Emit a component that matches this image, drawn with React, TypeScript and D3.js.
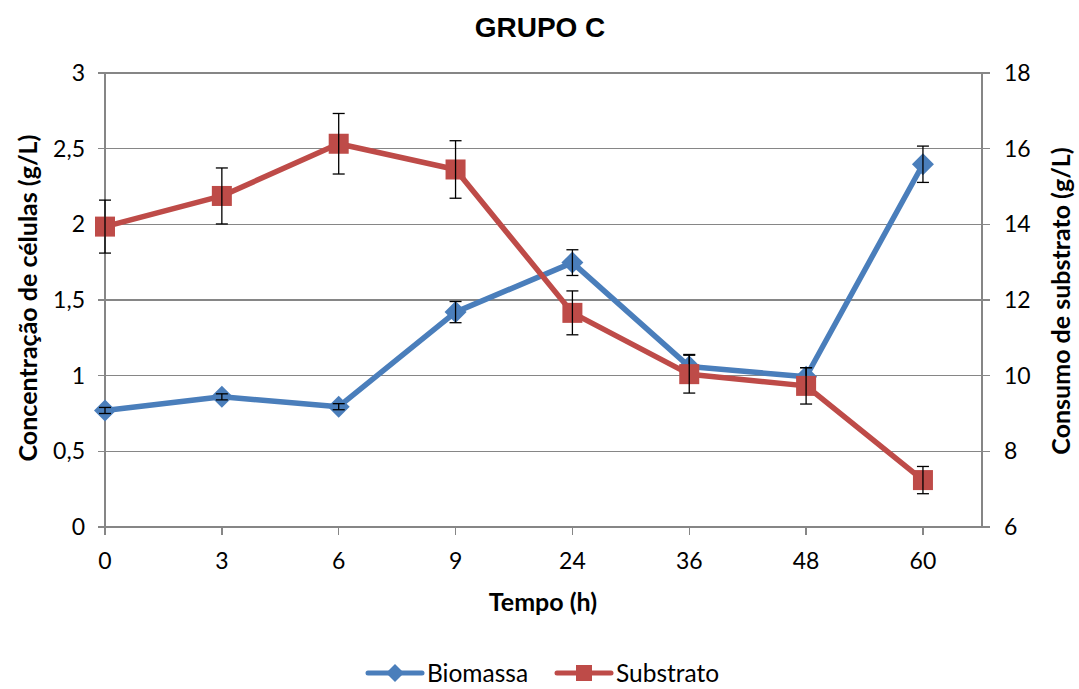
import React, { useEffect, useRef } from 'react';
import * as d3 from 'd3';

// tempo (h) categories
const categories = ['0', '3', '6', '9', '24', '36', '48', '60'];
// biomassa (g/L), left axis
const biomassa = [0.77, 0.86, 0.795, 1.42, 1.747, 1.06, 0.993, 2.397];
const biomassaErr = [0.02, 0.02, 0.02, 0.07, 0.085, 0.08, 0.06, 0.12];
// substrato (g/L), right axis
const substrato = [13.94, 14.75, 16.13, 15.45, 11.66, 10.04, 9.73, 7.24];
const substratoErr = [0.7, 0.74, 0.8, 0.76, 0.58, 0.5, 0.48, 0.36];
const leftTicks = [0, 0.5, 1, 1.5, 2, 2.5, 3];
const rightTicks = [6, 8, 10, 12, 14, 16, 18];

const W = 1079;
const H = 689;
const BLUE = '#4A7EBB';
const RED = '#BE4B48';
const GRID = '#868686';
const FONT = 'Lato, "Open Sans", sans-serif';

const fmt = (v: number) => String(v).replace('.', ',');

const App = () => {
  const ref = useRef<SVGSVGElement>(null);

  useEffect(() => {
    const svg = d3.select(ref.current);
    svg.selectAll('*').remove();

    const left = 105, right = 982, top = 73, bottom = 527;
    const step = 116.85;
    const x = d3.scaleLinear().domain([0, categories.length - 1]).range([left, left + step * (categories.length - 1)]);
    const yL = d3.scaleLinear().domain([0, 3]).range([bottom, top]);
    const yR = d3.scaleLinear().domain([6, 18]).range([bottom, top]);

    // title
    svg.append('text')
      .attr('x', 540).attr('y', 37)
      .attr('text-anchor', 'middle')
      .attr('font-family', '"Liberation Sans", Arial, sans-serif')
      .attr('font-weight', 'bold')
      .attr('font-size', 28)
      .text('GRUPO C');

    // gridlines
    leftTicks.forEach(t => {
      svg.append('line')
        .attr('x1', left - 7).attr('x2', right + 8)
        .attr('y1', yL(t)).attr('y2', yL(t))
        .attr('stroke', GRID).attr('stroke-width', 1.3)
        .attr('shape-rendering', 'crispEdges');
      svg.append('text')
        .attr('x', 85).attr('y', yL(t) + 8)
        .attr('text-anchor', 'end')
        .attr('font-family', FONT).attr('font-size', 23)
        .text(fmt(t));
    });
    rightTicks.forEach(t => {
      svg.append('text')
        .attr('x', 1004).attr('y', yR(t) + 8)
        .attr('font-family', FONT).attr('font-size', 23)
        .text(t);
    });

    // axes
    svg.append('line').attr('x1', left).attr('x2', left).attr('y1', top).attr('y2', bottom)
      .attr('stroke', GRID).attr('stroke-width', 1.3).attr('shape-rendering', 'crispEdges');
    svg.append('line').attr('x1', right).attr('x2', right).attr('y1', top).attr('y2', bottom)
      .attr('stroke', GRID).attr('stroke-width', 1.3).attr('shape-rendering', 'crispEdges');

    categories.forEach((c, i) => {
      svg.append('line')
        .attr('x1', x(i)).attr('x2', x(i)).attr('y1', bottom).attr('y2', bottom + 8)
        .attr('stroke', GRID).attr('stroke-width', 1.3).attr('shape-rendering', 'crispEdges');
      svg.append('text')
        .attr('x', x(i)).attr('y', 569)
        .attr('text-anchor', 'middle')
        .attr('font-family', FONT).attr('font-size', 23)
        .text(c);
    });

    // axis titles
    svg.append('text')
      .attr('x', 543).attr('y', 611)
      .attr('text-anchor', 'middle')
      .attr('font-family', FONT).attr('font-weight', 'bold').attr('font-size', 25)
      .text('Tempo (h)');
    svg.append('text')
      .attr('transform', 'translate(37,298) rotate(-90)')
      .attr('text-anchor', 'middle')
      .attr('font-family', FONT).attr('font-weight', 'bold').attr('font-size', 25)
      .text('Concentração de células (g/L)');
    svg.append('text')
      .attr('transform', 'translate(1070,301) rotate(-90)')
      .attr('text-anchor', 'middle')
      .attr('font-family', FONT).attr('font-weight', 'bold').attr('font-size', 25)
      .text('Consumo de substrato (g/L)');

    const drawSeries = (vals: number[], errs: number[], y: d3.ScaleLinear<number, number>, color: string, shape: 'diamond' | 'square') => {
      const g = svg.append('g');
      g.append('path')
        .datum(vals)
        .attr('d', d3.line<number>().x((_, i) => x(i)).y(d => y(d)))
        .attr('fill', 'none').attr('stroke', color).attr('stroke-width', 5.5)
        .attr('stroke-linejoin', 'round').attr('stroke-linecap', 'round');
      vals.forEach((v, i) => {
        const cx = x(i), cy = y(v);
        if (shape === 'diamond') {
          g.append('path')
            .attr('d', `M${cx},${cy - 11}L${cx + 11},${cy}L${cx},${cy + 11}L${cx - 11},${cy}Z`)
            .attr('fill', color);
        } else {
          g.append('rect')
            .attr('x', cx - 10).attr('y', cy - 10).attr('width', 20).attr('height', 20)
            .attr('fill', color);
        }
      });
      vals.forEach((v, i) => {
        const cx = x(i);
        const y1 = y(v + errs[i]), y2 = y(v - errs[i]);
        g.append('line').attr('x1', cx).attr('x2', cx).attr('y1', y1).attr('y2', y2)
          .attr('stroke', '#000').attr('stroke-width', 1.3);
        [y1, y2].forEach(yy => g.append('line')
          .attr('x1', cx - 6).attr('x2', cx + 6).attr('y1', yy).attr('y2', yy)
          .attr('stroke', '#000').attr('stroke-width', 1.3));
      });
    };

    drawSeries(biomassa, biomassaErr, yL, BLUE, 'diamond');
    drawSeries(substrato, substratoErr, yR, RED, 'square');

    // legend
    const legend = [
      { name: 'Biomassa', color: BLUE, shape: 'diamond', x0: 368 },
      { name: 'Substrato', color: RED, shape: 'square', x0: 557 },
    ];
    const ly = 673;
    legend.forEach(l => {
      svg.append('line')
        .attr('x1', l.x0).attr('x2', l.x0 + 54).attr('y1', ly).attr('y2', ly)
        .attr('stroke', l.color).attr('stroke-width', 5).attr('stroke-linecap', 'round');
      const cx = l.x0 + 27;
      if (l.shape === 'diamond') {
        svg.append('path')
          .attr('d', `M${cx},${ly - 9}L${cx + 9},${ly}L${cx},${ly + 9}L${cx - 9},${ly}Z`)
          .attr('fill', l.color);
      } else {
        svg.append('rect')
          .attr('x', cx - 8).attr('y', ly - 8).attr('width', 16).attr('height', 16)
          .attr('fill', l.color);
      }
      svg.append('text')
        .attr('x', l.x0 + 59).attr('y', ly + 9)
        .attr('font-family', FONT).attr('font-size', 24.5)
        .text(l.name);
    });
  }, []);

  return (
    <svg ref={ref} width={W} height={H}
      style={{ position: 'absolute', left: 0, top: 0, background: '#fff' }} />
  );
};

export default App;
